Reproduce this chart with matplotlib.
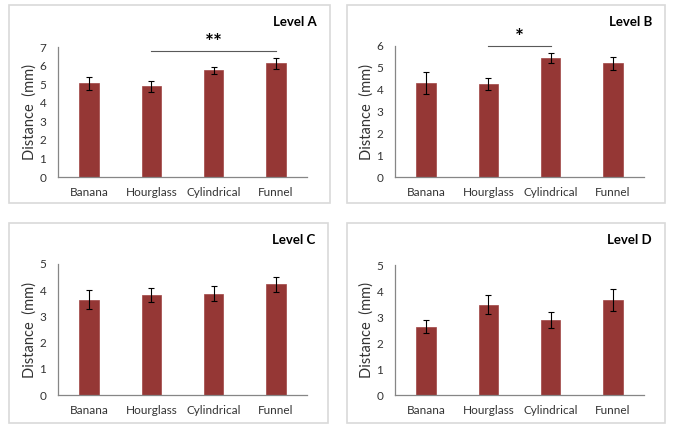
import matplotlib
matplotlib.use("Agg")
import matplotlib.pyplot as plt
from matplotlib.patches import Rectangle

plt.rcParams['font.family'] = ['Lato', 'DejaVu Sans']

categories = ["Banana", "Hourglass", "Cylindrical", "Funnel"]

levels = ["Level A", "Level B", "Level C", "Level D"]
means_A = [5.05, 4.88, 5.74, 6.13]
err_A = [0.36, 0.28, 0.21, 0.30]
means_B = [4.31, 4.26, 5.45, 5.20]
err_B = [0.50, 0.28, 0.24, 0.29]
means_C = [3.63, 3.81, 3.86, 4.22]
err_C = [0.36, 0.27, 0.29, 0.27]
means_D = [2.63, 3.48, 2.88, 3.65]
err_D = [0.26, 0.38, 0.32, 0.43]
ymax = [7, 6, 5, 5]
yticks_list = [list(range(0, 8)), list(range(0, 7)), list(range(0, 6)), list(range(0, 6))]

# significance: (start index, end index, y value, label)
sig = [(1, 3, 6.79, "**"), (1, 2, 6.02, "*"), None, None]

all_means = [means_A, means_B, means_C, means_D]
all_errs = [err_A, err_B, err_C, err_D]

W, H = 674, 432
fig = plt.figure(figsize=(W / 100, H / 100), dpi=100)

# panel layout in pixels: (box_x0, box_y0, box_x1, box_y1, ax_x0, ax_top, ax_x1, ax_bottom)
panels = [
    (9, 5, 330, 203, 58, 47, 307, 177),
    (347, 5, 665, 203, 395, 46, 644, 177),
    (9, 223, 328, 423, 58, 264, 307, 395),
    (347, 223, 665, 423, 395, 265, 644, 395),
]

bar_color = "#953735"
axis_color = "#868686"
text_color = "#333333"

for i, (bx0, by0, bx1, by1, ax0, at, ax1, ab) in enumerate(panels):
    fig.patches.append(Rectangle((bx0 / W, 1 - by1 / H), (bx1 - bx0) / W, (by1 - by0) / H,
                                 transform=fig.transFigure, fill=False,
                                 edgecolor="#d9d9d9", linewidth=1.2))
    ax = fig.add_axes([ax0 / W, 1 - ab / H, (ax1 - ax0) / W, (ab - at) / H])
    x = list(range(len(categories)))
    ax.bar(x, all_means[i], width=0.31, color=bar_color, edgecolor="#a04544", linewidth=0.5,
           yerr=all_errs[i], error_kw=dict(ecolor="black", elinewidth=0.8, capsize=2.2, capthick=0.8))
    ax.set_xlim(-0.5, 3.5)
    ax.set_ylim(0, ymax[i])
    ax.set_yticks(yticks_list[i])
    ax.set_xticks(x)
    ax.set_xticklabels(categories)
    ax.tick_params(axis='both', length=0, labelsize=8.5, colors=text_color)
    ax.tick_params(axis='x', pad=7.5)
    ax.tick_params(axis='y', pad=8.5)
    for s in ["top", "right"]:
        ax.spines[s].set_visible(False)
    for s in ["left", "bottom"]:
        ax.spines[s].set_color(axis_color)
        ax.spines[s].set_linewidth(0.9)
    ax.set_ylabel("Distance  (mm)", fontsize=10.5, color=text_color)
    ax.yaxis.set_label_coords(-0.084, 0.5)
    fig.text((bx1 - 13) / W, 1 - (by0 + 17) / H, levels[i], ha="right", va="center",
             fontsize=9.5, fontweight="bold", color="black")
    if sig[i] is not None:
        s0, s1, yv, lab = sig[i]
        ax.plot([s0, s1], [yv, yv], color="#595959", linewidth=0.8, clip_on=False)
        ax.text((s0 + s1) / 2, yv - 0.12, lab, ha="center", va="bottom", fontsize=15,
                fontweight="bold", color="black", clip_on=False)
    ax.set_facecolor("none")

fig.savefig("out.png", dpi=100, facecolor="white")
